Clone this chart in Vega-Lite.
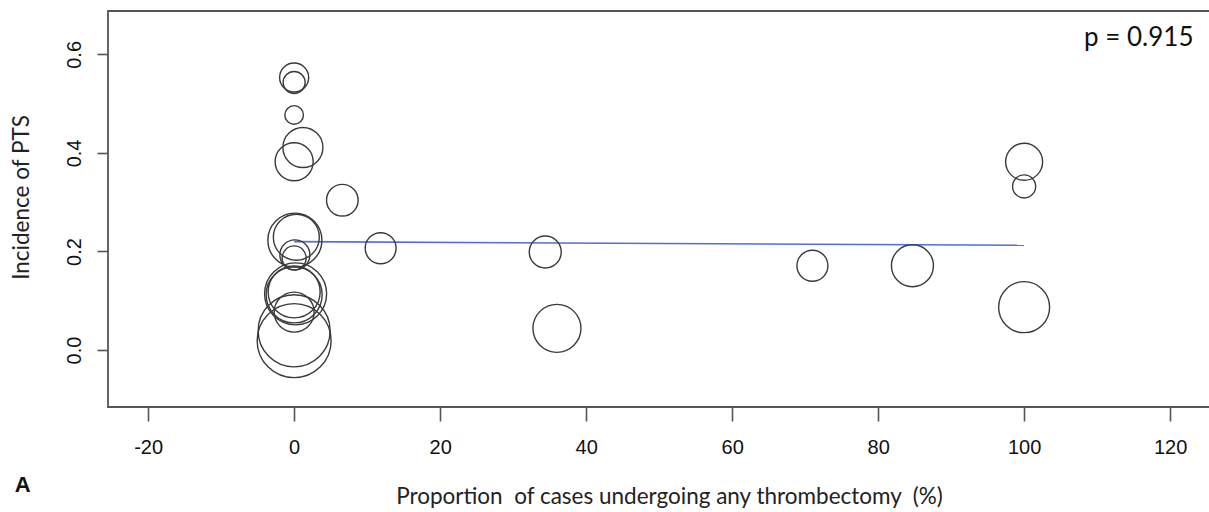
{
  "$schema": "https://vega.github.io/schema/vega-lite/v6.json",
  "autosize": {"type": "none"},
  "padding": {"left": 108, "top": 11, "right": 0, "bottom": 105},
  "width": 1103,
  "height": 396,
  "background": "white",
  "datasets": {
    "studies": [
      {"thrombectomy": 0, "pts": 0.553, "weight": 14.6},
      {"thrombectomy": 0, "pts": 0.543, "weight": 8.4},
      {"thrombectomy": 0, "pts": 0.477, "weight": 6.0},
      {"thrombectomy": 1.2, "pts": 0.411, "weight": 27.7},
      {"thrombectomy": 0, "pts": 0.382, "weight": 25.0},
      {"thrombectomy": 6.6, "pts": 0.304, "weight": 17.3},
      {"thrombectomy": 11.85, "pts": 0.2065, "weight": 16.6},
      {"thrombectomy": 0.1, "pts": 0.223, "weight": 50.5},
      {"thrombectomy": 0.3, "pts": 0.229, "weight": 36.6},
      {"thrombectomy": 0.1, "pts": 0.193, "weight": 15.6},
      {"thrombectomy": 0, "pts": 0.187, "weight": 10.0},
      {"thrombectomy": 0.2, "pts": 0.114, "weight": 66.6},
      {"thrombectomy": 0, "pts": 0.112, "weight": 54.3},
      {"thrombectomy": 0, "pts": 0.118, "weight": 46.8},
      {"thrombectomy": 0, "pts": 0.077, "weight": 27.7},
      {"thrombectomy": 0, "pts": 0.039, "weight": 89.8},
      {"thrombectomy": 0, "pts": 0.019, "weight": 94.8},
      {"thrombectomy": 34.4, "pts": 0.199, "weight": 17.7},
      {"thrombectomy": 36.0, "pts": 0.044, "weight": 39.9},
      {"thrombectomy": 71.0, "pts": 0.171, "weight": 16.6},
      {"thrombectomy": 84.7, "pts": 0.171, "weight": 30.5},
      {"thrombectomy": 100, "pts": 0.382, "weight": 23.7},
      {"thrombectomy": 100, "pts": 0.332, "weight": 9.2},
      {"thrombectomy": 100, "pts": 0.087, "weight": 45.0}
    ],
    "fit": [
      {"thrombectomy": 0, "pts": 0.220},
      {"thrombectomy": 100, "pts": 0.2125}
    ],
    "labels": [
      {"thrombectomy": 123.2, "pts": 0.633, "label": "p = 0.915", "kind": "p"},
      {"thrombectomy": -37.2, "pts": -0.274, "label": "A", "kind": "panel"}
    ]
  },
  "layer": [
    {
      "data": {"name": "fit"},
      "mark": {"type": "line", "color": "#4f6fd2", "strokeWidth": 1.6},
      "encoding": {
        "x": {"field": "thrombectomy", "type": "quantitative", "scale": {"domain": [-25.5, 125.6], "nice": false, "zero": false}, "axis": {
          "title": "Proportion\u00a0 of cases undergoing any thrombectomy\u00a0 (%)",
          "values": [-20, 0, 20, 40, 60, 80, 100, 120],
          "labelExpr": "datum.value < 0 ? '-' + abs(datum.value) : '' + datum.value",
          "domain": false, "grid": false,
          "tickColor": "#555", "tickWidth": 1.6, "tickSize": 14,
          "labelFont": "Liberation Sans", "labelFontSize": 20, "labelColor": "#111", "labelPadding": 16, "labelBaseline": "top",
          "titleFont": "Lato", "titleFontSize": 22.5, "titleFontWeight": "normal", "titleColor": "#222",
          "titleX": 561, "titleY": 96, "titleAlign": "center", "titleBaseline": "alphabetic"
        }},
        "y": {"field": "pts", "type": "quantitative", "scale": {"domain": [-0.1156, 0.688], "nice": false, "zero": false}, "axis": {
          "title": "Incidence of PTS",
          "values": [0, 0.2, 0.4, 0.6], "format": ".1f",
          "domain": false, "grid": false,
          "tickColor": "#555", "tickWidth": 1.6, "tickSize": 11,
          "labelFont": "Liberation Sans", "labelFontSize": 20, "labelColor": "#111", "labelPadding": 17,
          "labelAngle": 270, "labelAlign": "center", "labelBaseline": "alphabetic",
          "titleFont": "Lato", "titleFontSize": 22.5, "titleFontWeight": "normal", "titleColor": "#222",
          "titleAngle": 270, "titleX": -80, "titleY": 186, "titleAlign": "center", "titleBaseline": "alphabetic"
        }}
      }
    },
    {
      "data": {"name": "studies"},
      "mark": {"type": "point", "shape": "circle", "filled": false, "stroke": "#3a3a3a", "strokeWidth": 1.4, "opacity": 1},
      "encoding": {
        "x": {"field": "thrombectomy", "type": "quantitative"},
        "y": {"field": "pts", "type": "quantitative"},
        "size": {"field": "weight", "type": "quantitative", "scale": {"type": "linear", "domain": [0, 100], "range": [0, 5776], "zero": true}, "legend": null}
      }
    },
    {
      "data": {"name": "labels"},
      "transform": [{"filter": "datum.kind === 'p'"}],
      "mark": {"type": "text", "align": "right", "baseline": "middle", "font": "Lato", "fontSize": 26, "color": "#111"},
      "encoding": {
        "x": {"field": "thrombectomy", "type": "quantitative"},
        "y": {"field": "pts", "type": "quantitative"},
        "text": {"field": "label"}
      }
    },
    {
      "data": {"name": "labels"},
      "transform": [{"filter": "datum.kind === 'panel'"}],
      "mark": {"type": "text", "align": "center", "baseline": "middle", "font": "Liberation Sans", "fontWeight": "bold", "fontSize": 22, "color": "#111"},
      "encoding": {
        "x": {"field": "thrombectomy", "type": "quantitative"},
        "y": {"field": "pts", "type": "quantitative"},
        "text": {"field": "label"}
      }
    }
  ],
  "config": {
    "view": {"stroke": "#555", "strokeWidth": 1.8}
  }
}
